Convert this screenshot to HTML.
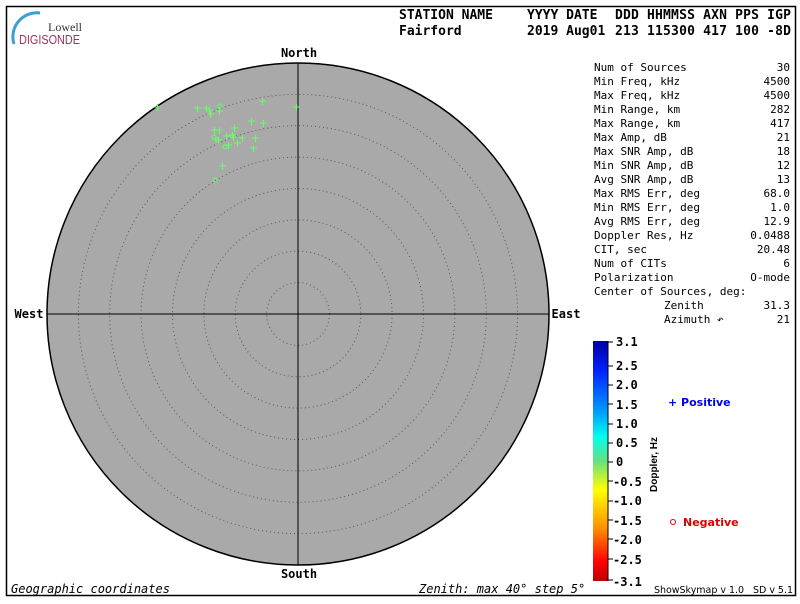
<!DOCTYPE html><html><head><style>
body{margin:0;background:#fff;width:800px;height:600px;overflow:hidden;font-family:"DejaVu Sans Mono","Liberation Mono",monospace}
svg text{font-family:"DejaVu Sans Mono","Liberation Mono",monospace}
</style></head><body>
<svg width="800" height="600" xmlns="http://www.w3.org/2000/svg">
<rect x="6.5" y="6.5" width="789" height="589" fill="#fff" stroke="#000" stroke-width="1.5"/>
<path d="M14,44 A24,24 0 0 1 40,13" fill="none" stroke="#3aa0d0" stroke-width="3"/>
<text x="48" y="31" style="font-family:'Liberation Serif',serif;font-size:12px" fill="#333">Lowell</text>
<text x="19" y="44" style="font-family:'Liberation Sans',sans-serif;font-size:12.5px" fill="#a03060" textLength="61" lengthAdjust="spacingAndGlyphs">DIGISONDE</text>
<g font-size="13" font-weight="bold" fill="#000">
<text x="399" y="19">STATION NAME</text><text x="527" y="19">YYYY DATE</text><text x="615" y="19" textLength="176" xml:space="preserve">DDD HHMMSS AXN PPS IGP</text>
<text x="399" y="35">Fairford</text><text x="527" y="35">2019 Aug01</text><text x="615" y="35" textLength="176" xml:space="preserve">213 115300 417 100 -8D</text>
</g>
<circle cx="298" cy="314" r="251" fill="#a9a9a9" stroke="#000" stroke-width="1.5"/>
<g fill="none" stroke="#555" stroke-dasharray="1,3" stroke-width="1">
<circle cx="298" cy="314" r="31.4"/><circle cx="298" cy="314" r="62.8"/><circle cx="298" cy="314" r="94.1"/><circle cx="298" cy="314" r="125.5"/><circle cx="298" cy="314" r="156.9"/><circle cx="298" cy="314" r="188.3"/><circle cx="298" cy="314" r="219.6"/>
</g>
<line x1="298" y1="63" x2="298" y2="565" stroke="#000"/>
<line x1="47" y1="314" x2="549" y2="314" stroke="#000"/>
<g font-size="12" font-weight="bold" text-anchor="middle">
<text x="299" y="57">North</text><text x="299" y="578">South</text>
<text x="29" y="318">West</text><text x="566" y="318">East</text>
</g>
<g stroke="#66ff66" stroke-width="1" fill="none">
<path d="M154,107h7M157.5,104v7 M194,108h7M197.5,105v7 M203,108h7M206.5,105v7 M206,110h7M209.5,107v7 M207,114h7M210.5,111v7 M216,111h7M219.5,108v7 M259,101h7M262.5,98v7 M293,107h7M296.5,104v7 M211,130h7M214.5,127v7 M216,130h7M219.5,127v7 M231,128h7M234.5,125v7 M248,121h7M251.5,118v7 M260,123h7M263.5,120v7 M215,140h7M218.5,137v7 M223,136h7M226.5,133v7 M229,135h7M232.5,132v7 M230,137h7M233.5,134v7 M239,138h7M242.5,135v7 M252,138h7M255.5,135v7 M225,145h7M228.5,142v7 M234,143h7M237.5,140v7 M250,148h7M253.5,145v7 M219,166h7M222.5,163v7"/>
<circle cx="220" cy="106" r="2"/><circle cx="214" cy="137" r="2"/><circle cx="217" cy="140" r="2"/><circle cx="225" cy="147" r="2"/><circle cx="215" cy="180" r="2"/>
</g>
<g font-size="11" fill="#000">
<text x="594" y="71">Num of Sources</text><text x="790" y="71" text-anchor="end">30</text>
<text x="594" y="85">Min Freq, kHz</text><text x="790" y="85" text-anchor="end">4500</text>
<text x="594" y="99">Max Freq, kHz</text><text x="790" y="99" text-anchor="end">4500</text>
<text x="594" y="113">Min Range, km</text><text x="790" y="113" text-anchor="end">282</text>
<text x="594" y="127">Max Range, km</text><text x="790" y="127" text-anchor="end">417</text>
<text x="594" y="141">Max Amp, dB</text><text x="790" y="141" text-anchor="end">21</text>
<text x="594" y="155">Max SNR Amp, dB</text><text x="790" y="155" text-anchor="end">18</text>
<text x="594" y="169">Min SNR Amp, dB</text><text x="790" y="169" text-anchor="end">12</text>
<text x="594" y="183">Avg SNR Amp, dB</text><text x="790" y="183" text-anchor="end">13</text>
<text x="594" y="197">Max RMS Err, deg</text><text x="790" y="197" text-anchor="end">68.0</text>
<text x="594" y="211">Min RMS Err, deg</text><text x="790" y="211" text-anchor="end">1.0</text>
<text x="594" y="225">Avg RMS Err, deg</text><text x="790" y="225" text-anchor="end">12.9</text>
<text x="594" y="239">Doppler Res, Hz</text><text x="790" y="239" text-anchor="end">0.0488</text>
<text x="594" y="253">CIT, sec</text><text x="790" y="253" text-anchor="end">20.48</text>
<text x="594" y="267">Num of CITs</text><text x="790" y="267" text-anchor="end">6</text>
<text x="594" y="281">Polarization</text><text x="790" y="281" text-anchor="end">O-mode</text>
<text x="594" y="295">Center of Sources, deg:</text>
<text x="664" y="309">Zenith</text><text x="790" y="309" text-anchor="end">31.3</text>
<text x="664" y="323">Azimuth ↶</text><text x="790" y="323" text-anchor="end">21</text>
</g>
<defs><linearGradient id="cb" x1="0" y1="0" x2="0" y2="1">
<stop offset="0" stop-color="#0000a0"/><stop offset="0.12" stop-color="#0020ff"/><stop offset="0.3" stop-color="#00a0ff"/><stop offset="0.4" stop-color="#00ffee"/><stop offset="0.5" stop-color="#66e080"/><stop offset="0.62" stop-color="#ffff00"/><stop offset="0.78" stop-color="#ff9000"/><stop offset="0.92" stop-color="#ff0000"/><stop offset="1" stop-color="#c00000"/>
</linearGradient></defs>
<rect x="593" y="341" width="15" height="240" fill="url(#cb)"/>
<line x1="608" y1="341" x2="608" y2="581" stroke="#000"/>
<g style="font-family:'DejaVu Sans',sans-serif;font-size:12px;font-weight:bold">
<text x="616" y="346">3.1</text><text x="616" y="370">2.5</text><text x="616" y="389">2.0</text><text x="616" y="409">1.5</text><text x="616" y="428">1.0</text><text x="616" y="447">0.5</text><text x="616" y="466">0</text><text x="613" y="486">-0.5</text><text x="613" y="505">-1.0</text><text x="613" y="525">-1.5</text><text x="613" y="544">-2.0</text><text x="613" y="564">-2.5</text><text x="613" y="586">-3.1</text>
</g>
<g stroke="#000"><path d="M608,342h5M608,366h5M608,385h5M608,404h5M608,424h5M608,443h5M608,462h5M608,481h5M608,501h5M608,520h5M608,539h5M608,559h5M608,580h5"/></g>
<text transform="translate(657,492) rotate(-90)" style="font-family:'Liberation Sans',sans-serif;font-size:10px;font-weight:bold">Doppler, Hz</text>
<text x="668" y="406" style="font-family:'DejaVu Sans',sans-serif;font-size:11px;font-weight:bold" fill="#0000ee">+ Positive</text>
<circle cx="673" cy="522" r="2.5" fill="none" stroke="#e00000"/>
<text x="683" y="526" style="font-family:'DejaVu Sans',sans-serif;font-size:11px;font-weight:bold" fill="#e00000">Negative</text>
<text x="11" y="593" font-size="12" font-style="italic">Geographic coordinates</text>
<text x="419" y="593" font-size="12" font-style="italic">Zenith: max 40°  step 5°</text>
<text x="654" y="593" style="font-family:'DejaVu Sans',sans-serif;font-size:9.5px" textLength="139" xml:space="preserve">ShowSkymap v 1.0   SD v 5.1</text>
</svg></body></html>
